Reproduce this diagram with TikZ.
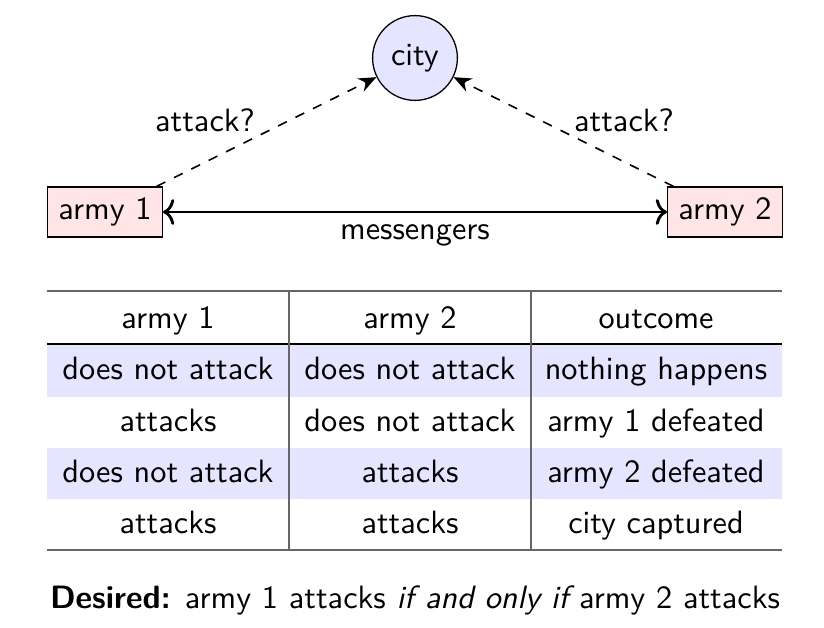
\documentclass[tikz,border=0pt]{standalone}
\usetikzlibrary{arrows.meta}
\renewcommand{\familydefault}{\sfdefault}
\begin{document}
\begin{tikzpicture}[x=0.3096pt,y=-0.3096pt,
  armybox/.style={draw, fill=red!10, line width=0.4pt},
  citynode/.style={draw, circle, fill=blue!10, minimum size=26pt, line width=0.4pt},
  attackarrow/.style={dashed, line width=0.5pt, -{Stealth[length=5.5pt,width=4.5pt]}},
  msgarrow/.style={line width=0.9pt, {To[length=3.5pt,width=8pt]}-{To[length=3.5pt,width=8pt]}},
  cell/.style={inner sep=0pt, anchor=center, text height=6.94pt, text depth=1.94pt},
  shade/.style={fill=blue!10, draw=none},
  greyrule/.style={draw=black!60, line width=0.5pt},
  midrule/.style={draw=black, line width=0.5pt}]
\useasboundingbox (0,0) rectangle (824,628);

% top diagram
\node[citynode] (city) at (415,58) {city};
\node[armybox] (a1) at (105,212) {army 1};
\node[armybox] (a2) at (725,212) {army 2};
\draw[attackarrow] (a1) -- (city);
\draw[attackarrow] (a2) -- (city);
\draw[msgarrow] (a1) -- (a2) node[midway, below] (msg) {messengers};
\node (l1) at (205,120) {attack?};
\node (l2) at (624,120) {attack?};

% table shading
\path[shade] (47,345) rectangle (782,397);
\path[shade] (47,448) rectangle (782,499);
% rules
\draw[greyrule] (47,291) -- (782,291);
\draw[greyrule] (47,550) -- (782,550);
\draw[midrule] (47,344) -- (782,344);
\draw[greyrule] (289,291) -- (289,550);
\draw[greyrule] (531,291) -- (531,550);

% header
\node[cell] (h1) at (168,320) {army 1};
\node[cell] (h2) at (410,320) {army 2};
\node[cell] (h3) at (656,320) {outcome};
% rows
\node[cell] (r11) at (168,371) {does not attack};
\node[cell] (r12) at (410,371) {does not attack};
\node[cell] (r13) at (656,371) {nothing happens};
\node[cell] (r21) at (168,423) {attacks};
\node[cell] (r22) at (410,423) {does not attack};
\node[cell] (r23) at (656,423) {army 1 defeated};
\node[cell] (r31) at (168,474) {does not attack};
\node[cell] (r32) at (410,474) {attacks};
\node[cell] (r33) at (656,474) {army 2 defeated};
\node[cell] (r41) at (168,525) {attacks};
\node[cell] (r42) at (410,525) {attacks};
\node[cell] (r43) at (656,525) {city captured};

% caption
\node (cap) at (415,600) {\textbf{Desired:} army 1 attacks {\itshape if and only if} army 2 attacks};
\end{tikzpicture}
\end{document}
